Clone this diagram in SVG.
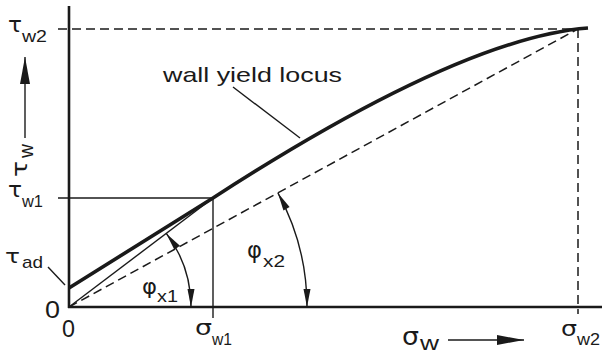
<svg xmlns="http://www.w3.org/2000/svg" width="602" height="354" viewBox="0 0 602 354">
<style>
  text { font-family: "Liberation Sans", Arial, sans-serif; fill: #1a1a1a; }
  .gr { font-family: "DejaVu Sans", "Liberation Sans", sans-serif; }
  .ln { stroke: #1a1a1a; fill: none; }
  .axis { stroke-width: 2.6; }
  .thin { stroke-width: 1.4; }
  .dash { stroke-width: 1.5; stroke-dasharray: 9 5; }
  .locus { stroke-width: 3.6; stroke-linejoin: round; }
</style>
<defs>
  <marker id="ah" markerUnits="userSpaceOnUse" markerWidth="20" markerHeight="8" refX="18" refY="3.5" orient="auto-start-reverse" overflow="visible">
    <path d="M0,0 L18,3.5 L0,7 z" fill="#1a1a1a"/>
  </marker>
  <marker id="big" markerUnits="userSpaceOnUse" markerWidth="28" markerHeight="12" refX="27" refY="5" orient="auto" overflow="visible">
    <path d="M0,0 L27,5 L0,10 z" fill="#1a1a1a"/>
  </marker>
</defs>
<rect width="602" height="354" fill="#ffffff"/>

<g id="connectors">
  <line class="ln axis" x1="69" y1="6" x2="69" y2="308"/>
  <line class="ln axis" x1="68" y1="307" x2="602" y2="307"/>
  <line class="ln dash" x1="58" y1="29" x2="578" y2="29"/>
  <line class="ln dash" x1="578" y1="29" x2="578" y2="314"/>
  <line class="ln dash" x1="69" y1="307" x2="576" y2="30"/>
  <line class="ln thin" x1="58" y1="198" x2="213" y2="198"/>
  <line class="ln thin" x1="213" y1="198" x2="213" y2="318"/>
  <line class="ln thin" x1="69" y1="307" x2="213" y2="198"/>
  <path class="ln locus" d="M69,288 L213,198 Q460,38 588,28"/>
  <line class="ln thin" x1="233" y1="87" x2="300" y2="138"/>
  <line class="ln thin" x1="48" y1="267" x2="65" y2="285"/>
  <path class="ln thin" d="M166.3,233.4 A122,122 0 0 1 191,307" marker-start="url(#ah)" marker-end="url(#ah)"/>
  <path class="ln thin" d="M277.9,192.9 A238,238 0 0 1 307,307" marker-start="url(#ah)" marker-end="url(#ah)"/>
  <line class="ln thin" x1="25" y1="138" x2="25" y2="57" marker-end="url(#big)"/>
  <line class="ln thin" x1="448" y1="340" x2="524" y2="340" marker-end="url(#big)"/>
</g>

<g id="label-tau-w2">
  <text class="gr" x="8" y="32" font-size="21" textLength="14" lengthAdjust="spacingAndGlyphs">τ</text>
  <text x="22" y="42" font-size="17" textLength="25" lengthAdjust="spacingAndGlyphs">w2</text>
</g>
<g id="label-tau-w">
  <g transform="translate(27,177) rotate(-90)">
    <text class="gr" x="0" y="0" font-size="21" textLength="16" lengthAdjust="spacingAndGlyphs">τ</text>
    <text x="19" y="6" font-size="21" textLength="14" lengthAdjust="spacingAndGlyphs">w</text>
  </g>
</g>
<g id="label-locus">
  <text x="163" y="82" font-size="21" textLength="179" lengthAdjust="spacingAndGlyphs">wall yield locus</text>
</g>
<g id="label-tau-w1">
  <text class="gr" x="8" y="197" font-size="21" textLength="14" lengthAdjust="spacingAndGlyphs">τ</text>
  <text x="22" y="207" font-size="17" textLength="21" lengthAdjust="spacingAndGlyphs">w1</text>
</g>
<g id="label-tau-ad">
  <text class="gr" x="5" y="263" font-size="19" textLength="15" lengthAdjust="spacingAndGlyphs">τ</text>
  <text x="22" y="268" font-size="17" textLength="21" lengthAdjust="spacingAndGlyphs">ad</text>
</g>
<g id="label-phi-x1">
  <text class="gr" x="142" y="294" font-size="22" textLength="15" lengthAdjust="spacingAndGlyphs">φ</text>
  <text x="157" y="302" font-size="17" textLength="21" lengthAdjust="spacingAndGlyphs">x1</text>
</g>
<g id="label-phi-x2">
  <text class="gr" x="247" y="258" font-size="23" textLength="15" lengthAdjust="spacingAndGlyphs">φ</text>
  <text x="263" y="267" font-size="17" textLength="22" lengthAdjust="spacingAndGlyphs">x2</text>
</g>
<g id="label-zero-y">
  <text x="45" y="318" font-size="23" textLength="15" lengthAdjust="spacingAndGlyphs">0</text>
</g>
<g id="label-zero-x">
  <text x="62" y="337" font-size="24" textLength="13" lengthAdjust="spacingAndGlyphs">0</text>
</g>
<g id="label-sigma-w1">
  <text class="gr" x="195" y="335" font-size="22" textLength="17" lengthAdjust="spacingAndGlyphs">σ</text>
  <text x="212" y="345" font-size="17" textLength="20" lengthAdjust="spacingAndGlyphs">w1</text>
</g>
<g id="label-sigma-w">
  <text class="gr" x="402" y="345" font-size="24" textLength="17" lengthAdjust="spacingAndGlyphs">σ</text>
  <text x="420" y="350" font-size="20" textLength="19" lengthAdjust="spacingAndGlyphs">w</text>
</g>
<g id="label-sigma-w2">
  <text class="gr" x="561" y="336" font-size="22" textLength="16" lengthAdjust="spacingAndGlyphs">σ</text>
  <text x="577" y="345" font-size="17" textLength="23" lengthAdjust="spacingAndGlyphs">w2</text>
</g>
</svg>
